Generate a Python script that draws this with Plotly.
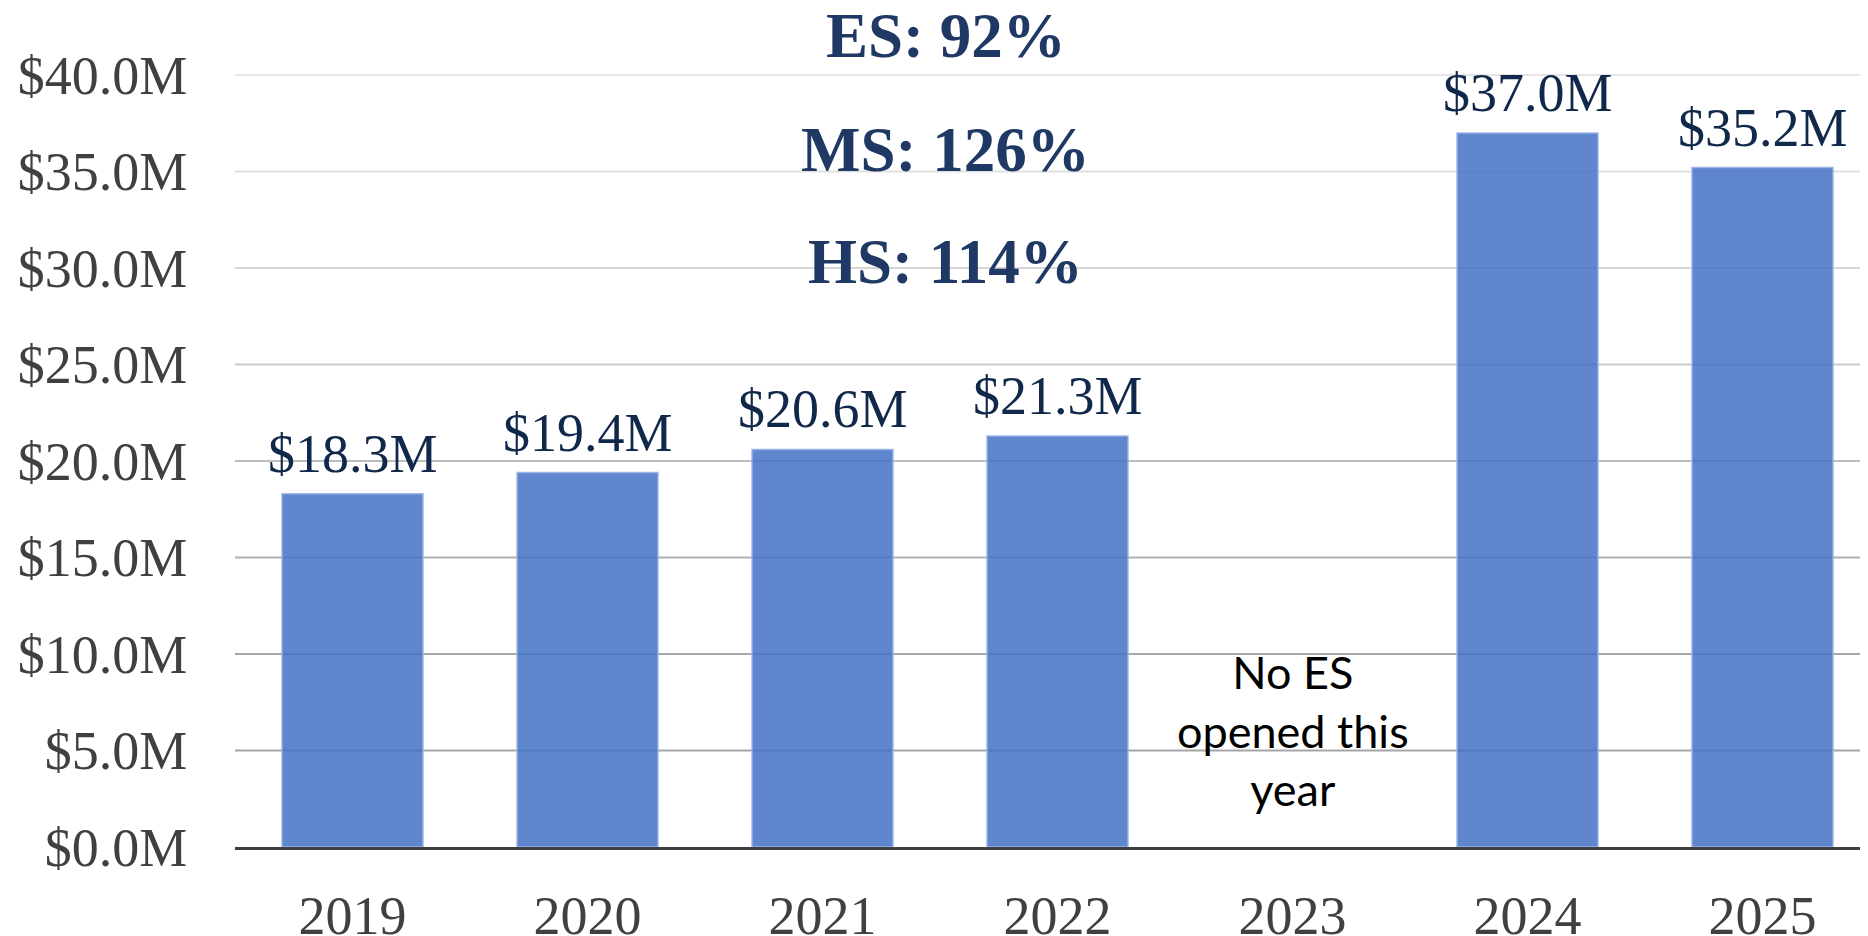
import plotly.graph_objects as go

years = ["2019", "2020", "2021", "2022", "2023", "2024", "2025"]
values = [18.3, 19.4, 20.6, 21.3, None, 37.0, 35.2]
labels = ["$18.3M", "$19.4M", "$20.6M", "$21.3M", "", "$37.0M", "$35.2M"]
tick_vals = [0, 5, 10, 15, 20, 25, 30, 35, 40]
tick_text = ["$0.0M", "$5.0M", "$10.0M", "$15.0M", "$20.0M", "$25.0M", "$30.0M", "$35.0M", "$40.0M"]
grid_colors = ["#404040", "#A6A6A6", "#A6A6A6", "#B0B0B0", "#BEBEBE", "#CACACA", "#D6D6D6", "#E0E0E0", "#E6E6E6"]
headline_lines = ["ES: 92%", "MS: 126%", "HS: 114%"]
headline_y = [42.0, 36.1, 30.3]
note_text = "No ES<br>opened this<br>year"

SERIF = "Liberation Serif"
xpos = list(range(len(years)))

W, H = 1868, 936
ML, MR, MT, MB = 227, 8, 0, 97
CAT_PX = 235.0  # pixel width of one category slot
x_right = -0.5 + (W - ML - MR) / CAT_PX

fig = go.Figure()
fig.add_trace(go.Bar(
    x=xpos, y=values,
    marker=dict(color="rgba(68,114,196,0.85)", line=dict(color="rgba(150,180,230,0.9)", width=1.5)),
    width=0.6,
    hoverinfo="skip",
))

# gridlines with graded colours
for v, c in zip(tick_vals[1:], grid_colors[1:]):
    fig.add_shape(type="line", xref="paper", yref="y", x0=0, x1=1, y0=v, y1=v,
                  line=dict(color=c, width=2), layer="below")

# data labels
for x, v, t in zip(xpos, values, labels):
    if v is None:
        continue
    fig.add_annotation(x=x, y=v, text=t, showarrow=False, yanchor="bottom", yshift=8,
                       font=dict(family=SERIF, size=54, color="#10284A"))

# headline annotations
for t, y in zip(headline_lines, headline_y):
    fig.add_annotation(x=2.525, y=y, xref="x", yref="y", text="<b>" + t + "</b>", showarrow=False,
                       font=dict(family=SERIF, size=63, color="#1F3864"))

fig.add_annotation(x=years.index("2023"), y=6.06, text=note_text, showarrow=False,
                   font=dict(family="Lato", size=45, color="#000000"))

fig.update_layout(
    width=W, height=H,
    margin=dict(l=ML, r=MR, t=MT, b=MB),
    paper_bgcolor="white", plot_bgcolor="white",
    showlegend=False,
    xaxis=dict(
        range=[-0.5, x_right],
        tickvals=xpos, ticktext=years,
        showline=True, linecolor="#404040", linewidth=3,
        showgrid=False, zeroline=False, automargin=False,
        ticks="outside", ticklen=0, ticklabelstandoff=19,
        tickfont=dict(family=SERIF, size=54, color="#404040"),
    ),
    yaxis=dict(
        range=[0, 43.47],
        tickvals=tick_vals, ticktext=tick_text,
        showgrid=False, zeroline=False, showline=False, automargin=False,
        ticks="outside", ticklen=0, ticklabelstandoff=36,
        tickfont=dict(family=SERIF, size=54, color="#404040"),
    ),
)

fig.write_html("out.html")
